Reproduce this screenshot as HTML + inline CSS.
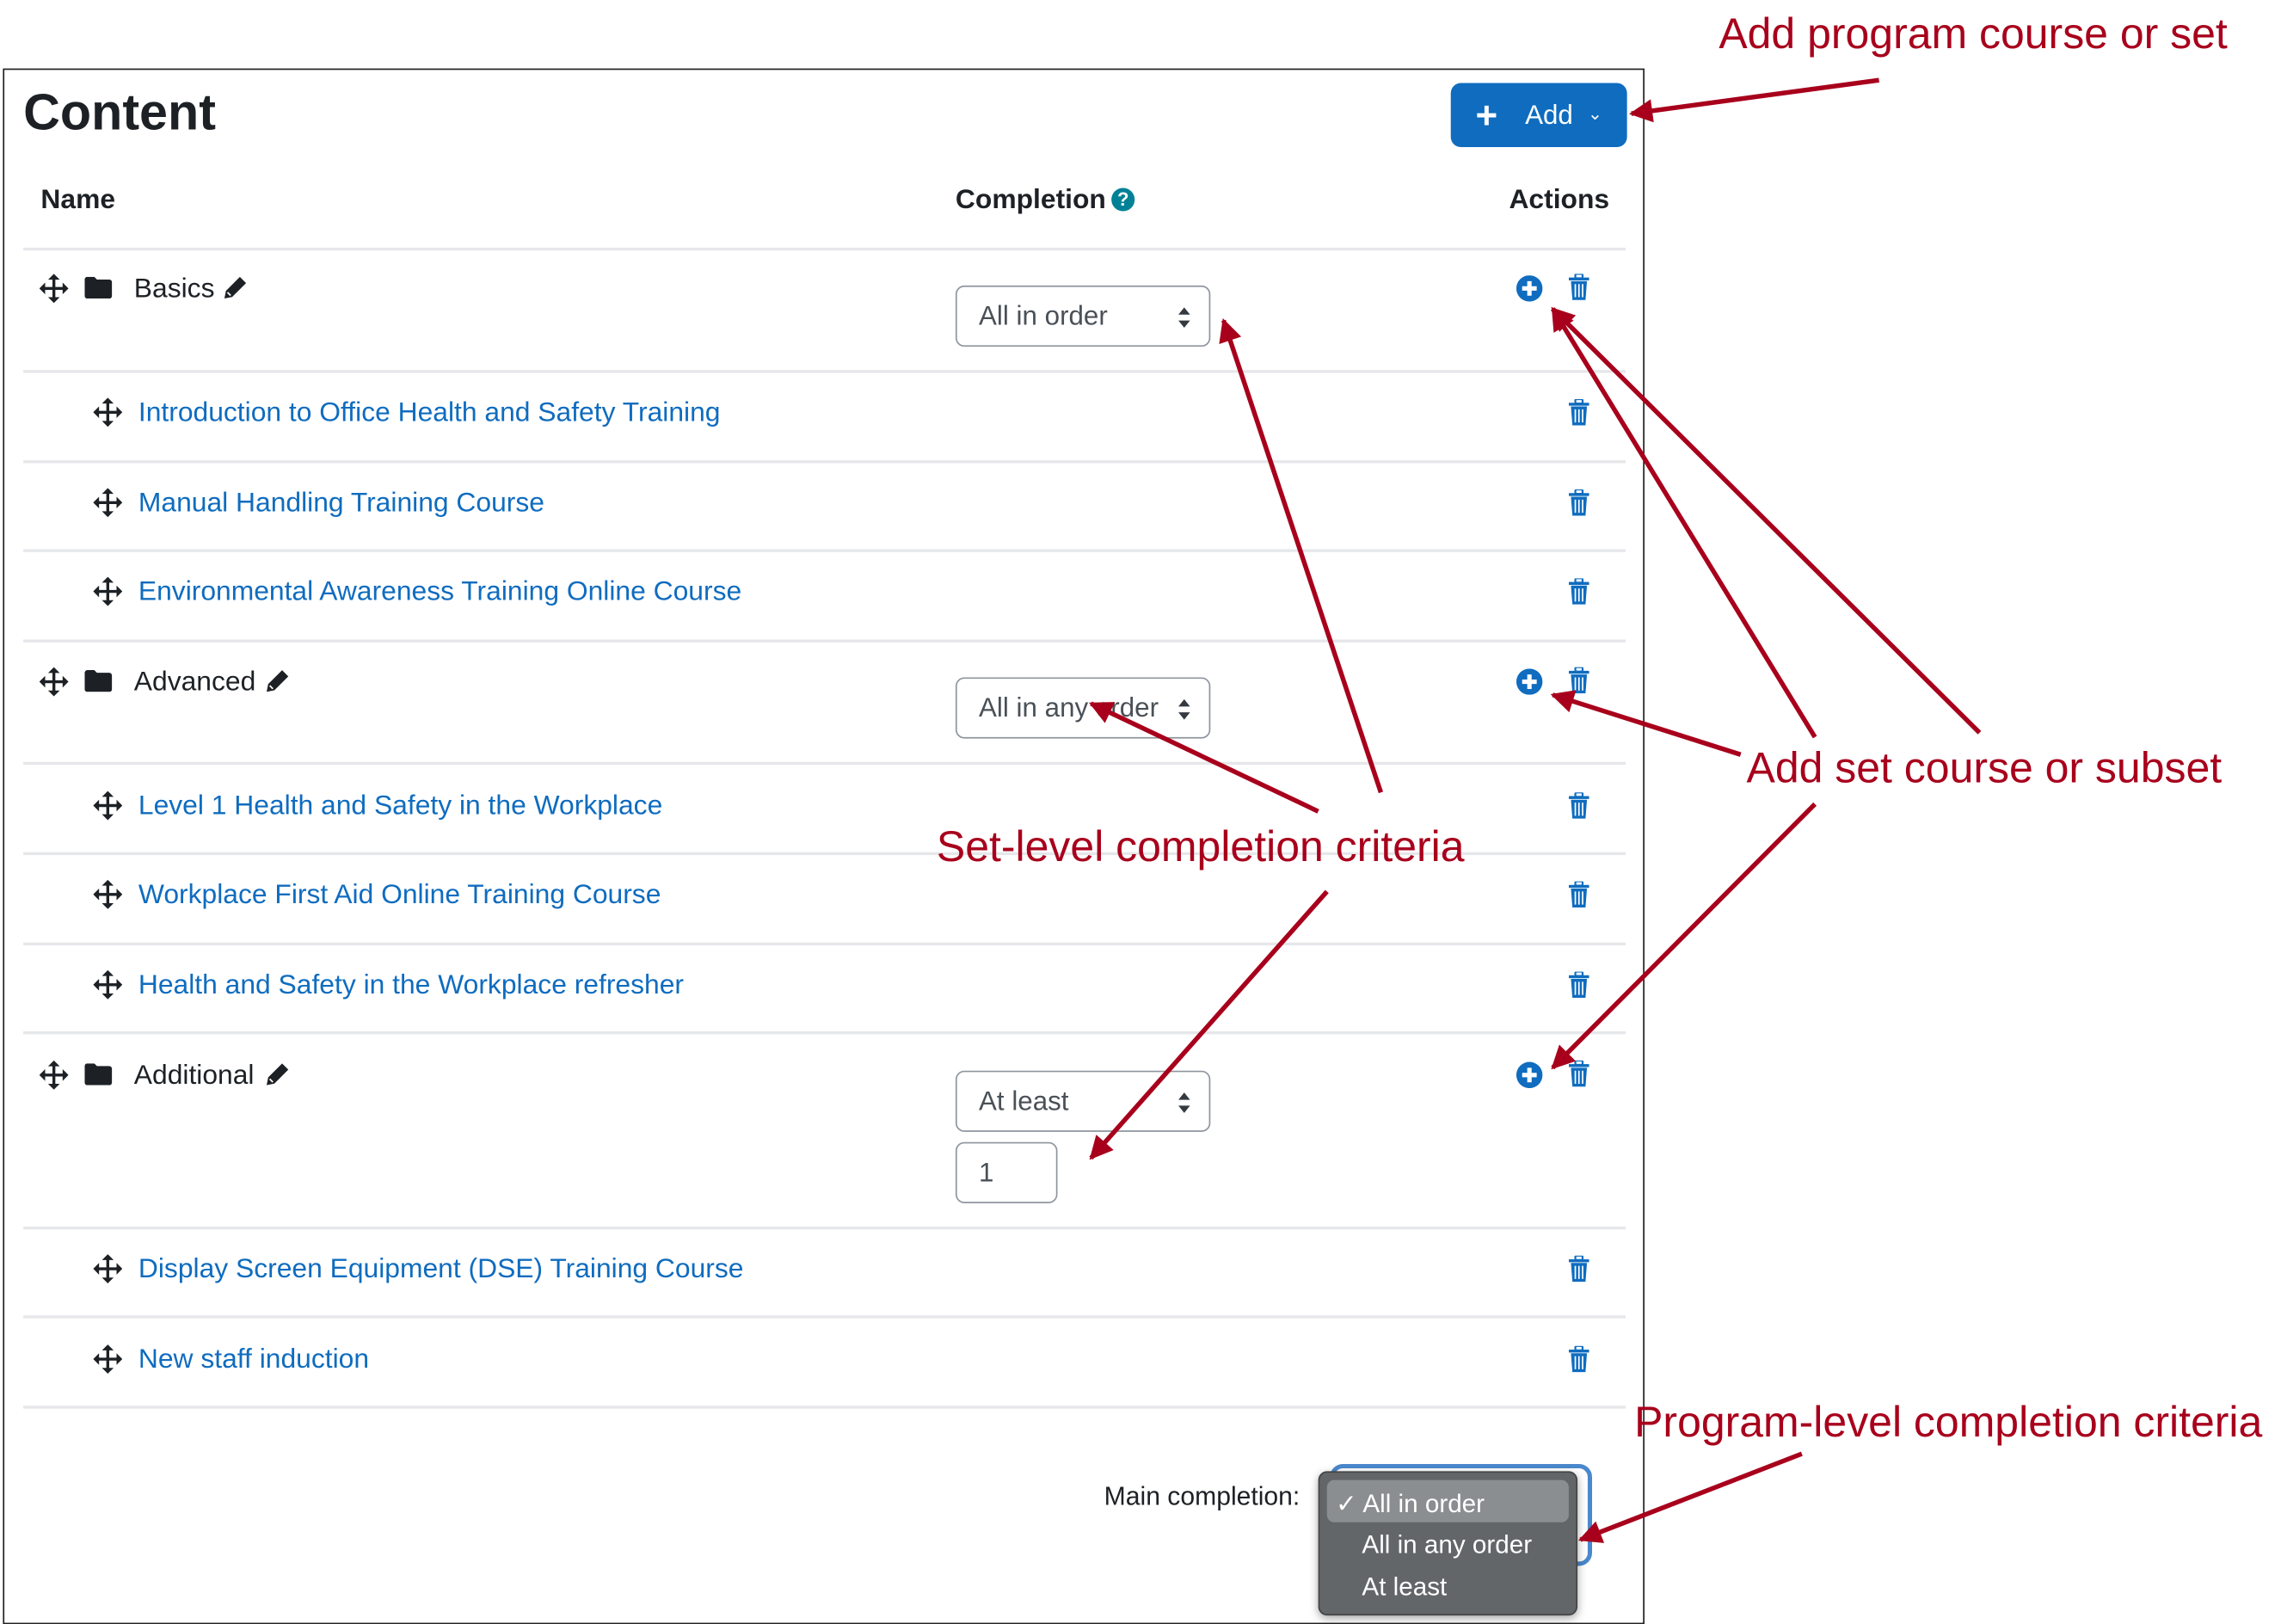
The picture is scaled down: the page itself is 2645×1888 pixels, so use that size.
<!DOCTYPE html>
<html><head><meta charset="utf-8">
<style>
html,body{margin:0;padding:0;background:#fff;}
body{width:2645px;height:1885px;overflow:hidden;position:relative;}
#w{position:absolute;left:0;top:0;width:1562px;height:1113px;transform:scale(1.6935);transform-origin:0 0;font-family:"Liberation Sans",Arial,sans-serif;color:#1d2125;}
.a{position:absolute;white-space:nowrap;}
.box{position:absolute;left:2px;top:47px;width:1125px;height:1066px;border:1.5px solid #222;}
.hl{position:absolute;left:16px;width:1100px;height:1.5px;background:#e6e7ea;}
.t{font-size:18.8px;line-height:20px;}
.b{font-weight:bold;}
.lnk{color:#0f6cbf;}
.sel{position:absolute;left:656px;width:175px;height:42px;border:1.5px solid #8f959e;border-radius:6px;box-sizing:border-box;}
.sel span{position:absolute;left:15px;top:10px;font-size:18.5px;line-height:20px;color:#495057;}
.ann{position:absolute;white-space:nowrap;color:#a8001c;font-size:29.5px;line-height:32px;}
</style></head><body><div id="w">
<svg width="0" height="0" style="position:absolute">
<defs>
<symbol id="mv" viewBox="0 0 20 20"><path d="M10 0l4 4h-3v5h5V6l4 4-4 4v-3h-5v5h3l-4 4-4-4h3v-5H4v3l-4-4 4-4v3h5V4H6z" fill="#1d2125"/></symbol>
<symbol id="fd" viewBox="0 0 20 16"><path d="M0 2a2 2 0 0 1 2-2h5l2 2h9a2 2 0 0 1 2 2v10a2 2 0 0 1-2 2H2a2 2 0 0 1-2-2z" fill="#1d2125"/></symbol>
<symbol id="pc" viewBox="0 0 16 16"><path d="M11 1l4 4-9 9-5 1 1-5z" fill="#1d2125"/><path d="M3 11l2 2" stroke="#fff" stroke-width="1"/></symbol>
<symbol id="tr" viewBox="0 0 14 18"><rect x="0" y="2.5" width="14" height="2" fill="#0f6cbf"/><rect x="4.5" y="0" width="5" height="3" rx="1" fill="none" stroke="#0f6cbf" stroke-width="1.3"/><path d="M1.5 5h11l-1 13h-9z" fill="#0f6cbf"/><path d="M4.5 7v9M7 7v9M9.5 7v9" stroke="#fff" stroke-width="1"/></symbol>
<symbol id="pl" viewBox="0 0 18 18"><circle cx="9" cy="9" r="9" fill="#0f6cbf"/><path d="M9 4v10M4 9h10" stroke="#fff" stroke-width="3"/></symbol>
<symbol id="ud" viewBox="0 0 10 16"><path d="M5 1l4 5H1zM5 15l4-5H1z" fill="#343a40"/></symbol>
<marker id="ah" viewBox="0 0 10 10" refX="9" refY="5" markerWidth="6" markerHeight="5" orient="auto" markerUnits="strokeWidth"><path d="M0 0L10 5L0 10z" fill="#a8001c"/></marker>
</defs></svg>

<div class="box"></div>
<div class="a b" style="left:16px;top:59px;font-size:35px;line-height:38px;">Content</div>
<div class="a" style="left:996px;top:57px;width:121px;height:44px;background:#0f6cbf;border-radius:7px;"></div>
<div class="a" style="left:1013px;top:68px;color:#fff;font-size:26px;line-height:22px;font-weight:bold;">+</div>
<div class="a" style="left:1047px;top:69px;color:#fff;font-size:18.5px;line-height:20px;">Add</div>
<div class="a" style="left:1090px;top:68px;color:#fff;font-size:12px;line-height:20px;">&#8964;</div>

<div class="a t b" style="left:28px;top:127px;">Name</div>
<div class="a t b" style="left:656px;top:127px;">Completion</div>
<div class="a" style="left:763px;top:129px;width:16px;height:16px;border-radius:50%;background:#008196;color:#fff;font-size:13px;line-height:16px;text-align:center;font-weight:bold;">?</div>
<div class="a t b" style="left:1036px;top:127px;">Actions</div>

<div class="hl" style="top:170px"></div>
<div class="hl" style="top:254px"></div>
<div class="hl" style="top:316px"></div>
<div class="hl" style="top:377px"></div>
<div class="hl" style="top:439px"></div>
<div class="hl" style="top:523px"></div>
<div class="hl" style="top:585px"></div>
<div class="hl" style="top:647px"></div>
<div class="hl" style="top:708px"></div>
<div class="hl" style="top:842px"></div>
<div class="hl" style="top:903px"></div>
<div class="hl" style="top:965px"></div>

<svg class="a" style="left:27px;top:188px" width="20" height="20"><use href="#mv"/></svg>
<svg class="a" style="left:58px;top:190px" width="19" height="15"><use href="#fd"/></svg>
<div class="a t" style="left:92px;top:188px;">Basics</div>
<svg class="a" style="left:153px;top:189px" width="17" height="17"><use href="#pc"/></svg>
<div class="sel" style="top:196px"><span>All in order</span><svg class="a" style="left:151px;top:13px" width="10" height="16"><use href="#ud"/></svg></div>
<svg class="a" style="left:1041px;top:189px" width="18" height="18"><use href="#pl"/></svg>
<svg class="a" style="left:1077px;top:188px" width="14" height="18"><use href="#tr"/></svg>

<svg class="a" style="left:27px;top:458px" width="20" height="20"><use href="#mv"/></svg>
<svg class="a" style="left:58px;top:460px" width="19" height="15"><use href="#fd"/></svg>
<div class="a t" style="left:92px;top:458px;">Advanced</div>
<svg class="a" style="left:182px;top:459px" width="17" height="17"><use href="#pc"/></svg>
<div class="sel" style="top:465px"><span>All in any order</span><svg class="a" style="left:151px;top:13px" width="10" height="16"><use href="#ud"/></svg></div>
<svg class="a" style="left:1041px;top:459px" width="18" height="18"><use href="#pl"/></svg>
<svg class="a" style="left:1077px;top:458px" width="14" height="18"><use href="#tr"/></svg>

<svg class="a" style="left:27px;top:728px" width="20" height="20"><use href="#mv"/></svg>
<svg class="a" style="left:58px;top:730px" width="19" height="15"><use href="#fd"/></svg>
<div class="a t" style="left:92px;top:728px;">Additional</div>
<svg class="a" style="left:182px;top:729px" width="17" height="17"><use href="#pc"/></svg>
<div class="sel" style="top:735px"><span>At least</span><svg class="a" style="left:151px;top:13px" width="10" height="16"><use href="#ud"/></svg></div>
<div class="sel" style="top:784px;width:70px"><span>1</span></div>
<svg class="a" style="left:1041px;top:729px" width="18" height="18"><use href="#pl"/></svg>
<svg class="a" style="left:1077px;top:728px" width="14" height="18"><use href="#tr"/></svg>

<svg class="a" style="left:64px;top:273px" width="20" height="20"><use href="#mv"/></svg>
<div class="a t lnk" style="left:95px;top:273px;">Introduction to Office Health and Safety Training</div>
<svg class="a" style="left:1077px;top:274px" width="14" height="18"><use href="#tr"/></svg>
<svg class="a" style="left:64px;top:335px" width="20" height="20"><use href="#mv"/></svg>
<div class="a t lnk" style="left:95px;top:335px;">Manual Handling Training Course</div>
<svg class="a" style="left:1077px;top:336px" width="14" height="18"><use href="#tr"/></svg>
<svg class="a" style="left:64px;top:396px" width="20" height="20"><use href="#mv"/></svg>
<div class="a t lnk" style="left:95px;top:396px;">Environmental Awareness Training Online Course</div>
<svg class="a" style="left:1077px;top:397px" width="14" height="18"><use href="#tr"/></svg>
<svg class="a" style="left:64px;top:543px" width="20" height="20"><use href="#mv"/></svg>
<div class="a t lnk" style="left:95px;top:543px;">Level 1 Health and Safety in the Workplace</div>
<svg class="a" style="left:1077px;top:544px" width="14" height="18"><use href="#tr"/></svg>
<svg class="a" style="left:64px;top:604px" width="20" height="20"><use href="#mv"/></svg>
<div class="a t lnk" style="left:95px;top:604px;">Workplace First Aid Online Training Course</div>
<svg class="a" style="left:1077px;top:605px" width="14" height="18"><use href="#tr"/></svg>
<svg class="a" style="left:64px;top:666px" width="20" height="20"><use href="#mv"/></svg>
<div class="a t lnk" style="left:95px;top:666px;">Health and Safety in the Workplace refresher</div>
<svg class="a" style="left:1077px;top:667px" width="14" height="18"><use href="#tr"/></svg>
<svg class="a" style="left:64px;top:861px" width="20" height="20"><use href="#mv"/></svg>
<div class="a t lnk" style="left:95px;top:861px;">Display Screen Equipment (DSE) Training Course</div>
<svg class="a" style="left:1077px;top:862px" width="14" height="18"><use href="#tr"/></svg>
<svg class="a" style="left:64px;top:923px" width="20" height="20"><use href="#mv"/></svg>
<div class="a t lnk" style="left:95px;top:923px;">New staff induction</div>
<svg class="a" style="left:1077px;top:924px" width="14" height="18"><use href="#tr"/></svg>

<div class="a" style="left:758px;top:1017px;font-size:17.8px;line-height:20px;">Main completion:</div>
<div class="a" style="left:913px;top:1005px;width:180px;height:70px;border:3px solid #4a88cc;border-radius:9px;box-sizing:border-box;"></div>
<div class="a" style="left:905px;top:1010px;width:178px;height:99px;background:#636669;border:1px solid #444;border-radius:6px;box-shadow:0 2px 6px rgba(0,0,0,.35);box-sizing:border-box;"></div>
<div class="a" style="left:911px;top:1016px;width:166px;height:29px;background:#8b8e90;border-radius:5px;"></div>
<div class="a" style="left:917px;top:1022px;color:#fff;font-size:17.5px;line-height:20px;">&#10003; All in order</div>
<div class="a" style="left:935px;top:1050px;color:#fff;font-size:17.5px;line-height:20px;">All in any order</div>
<div class="a" style="left:935px;top:1079px;color:#fff;font-size:17.5px;line-height:20px;">At least</div>

<div class="ann" style="left:1180px;top:8px;">Add program course or set</div>
<div class="ann" style="left:1199px;top:512px;">Add set course or subset</div>
<div class="ann" style="left:643px;top:566px;">Set-level completion criteria</div>
<div class="ann" style="left:1122px;top:961px;">Program-level completion criteria</div>

<svg class="a" style="left:0;top:0" width="1562" height="1113">
<g stroke="#a8001c" stroke-width="3.2" fill="none" marker-end="url(#ah)">
<line x1="1290" y1="55" x2="1120" y2="78"/>
<line x1="1246" y1="506" x2="1066" y2="212"/>
<line x1="1359" y1="503" x2="1066" y2="212"/>
<line x1="1195" y1="518" x2="1066" y2="477"/>
<line x1="1246" y1="552" x2="1066" y2="733"/>
<line x1="948" y1="544" x2="840" y2="220"/>
<line x1="905" y1="557" x2="749" y2="483"/>
<line x1="911" y1="612" x2="749" y2="795"/>
<line x1="1237" y1="998" x2="1085" y2="1057"/>
</g></svg>
</div></body></html>
